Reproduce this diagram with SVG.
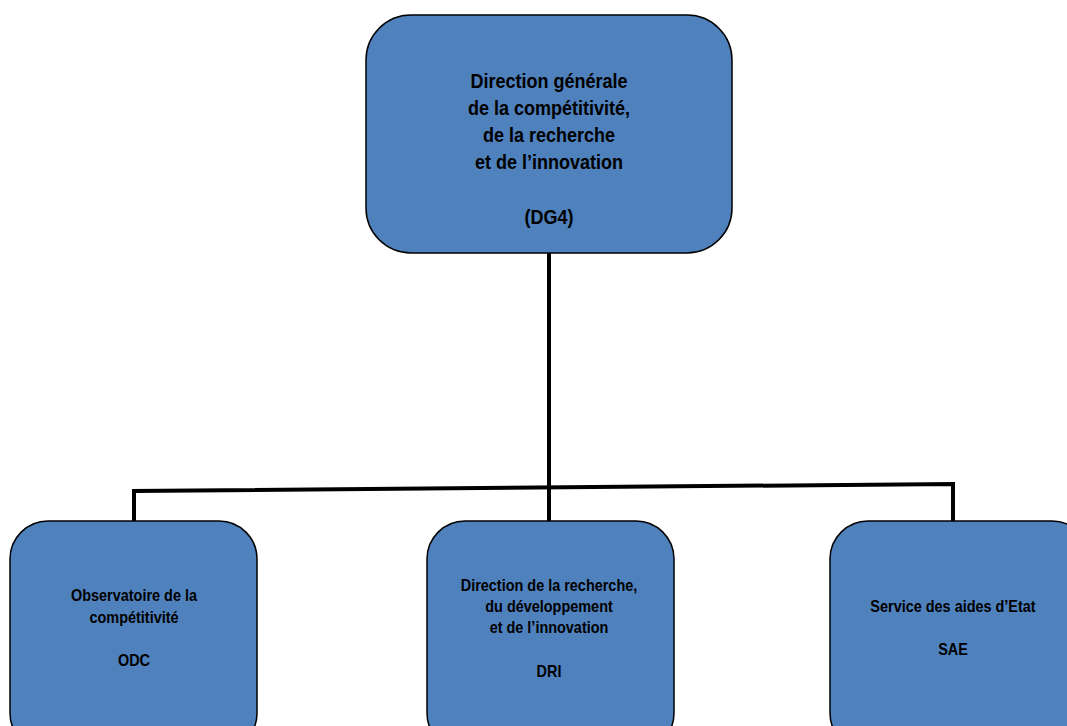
<svg xmlns="http://www.w3.org/2000/svg" width="1067" height="726" viewBox="0 0 1067 726">
<style>
.box{fill:#4f81bd;stroke:#000;stroke-width:1.5}
.t{font-family:"Liberation Sans",Arial,sans-serif;font-weight:bold;fill:#000;text-anchor:middle}
.big{font-size:20px}
.small{font-size:16.5px}
.c{fill:none;stroke:#000;stroke-width:4}
</style>
<rect width="1067" height="726" fill="#fff"/>
<g id="connectors">
<line class="c" x1="549" y1="253" x2="549" y2="521"/>
<polyline class="c" points="134,521 134,491 953,484 953,521"/>
</g>
<g id="dg4">
<rect class="box" x="366" y="15" width="366" height="238" rx="45" ry="45"/>
<g transform="translate(549,0) scale(0.9,1)">
<text class="t big" x="0" y="88">Direction générale</text>
<text class="t big" x="0" y="115">de la compétitivité,</text>
<text class="t big" x="0" y="142">de la recherche</text>
<text class="t big" x="0" y="169">et de l’innovation</text>
<text class="t big" x="0" y="224">(DG4)</text>
</g>
</g>
<g id="odc">
<rect class="box" x="10" y="521" width="247" height="230" rx="38" ry="38"/>
<g transform="translate(134,0) scale(0.875,1)">
<text class="t small" x="0" y="601">Observatoire de la</text>
<text class="t small" x="0" y="623">compétitivité</text>
<text class="t small" x="0" y="666">ODC</text>
</g>
</g>
<g id="dri">
<rect class="box" x="427" y="521" width="247" height="230" rx="38" ry="38"/>
<g transform="translate(549,0) scale(0.875,1)">
<text class="t small" x="0" y="591">Direction de la recherche,</text>
<text class="t small" x="0" y="612">du développement</text>
<text class="t small" x="0" y="633">et de l’innovation</text>
<text class="t small" x="0" y="677">DRI</text>
</g>
</g>
<g id="sae">
<rect class="box" x="830" y="521" width="260" height="230" rx="38" ry="38"/>
<g transform="translate(953,0) scale(0.875,1)">
<text class="t small" x="0" y="612">Service des aides d’Etat</text>
<text class="t small" x="0" y="655">SAE</text>
</g>
</g>
</svg>
